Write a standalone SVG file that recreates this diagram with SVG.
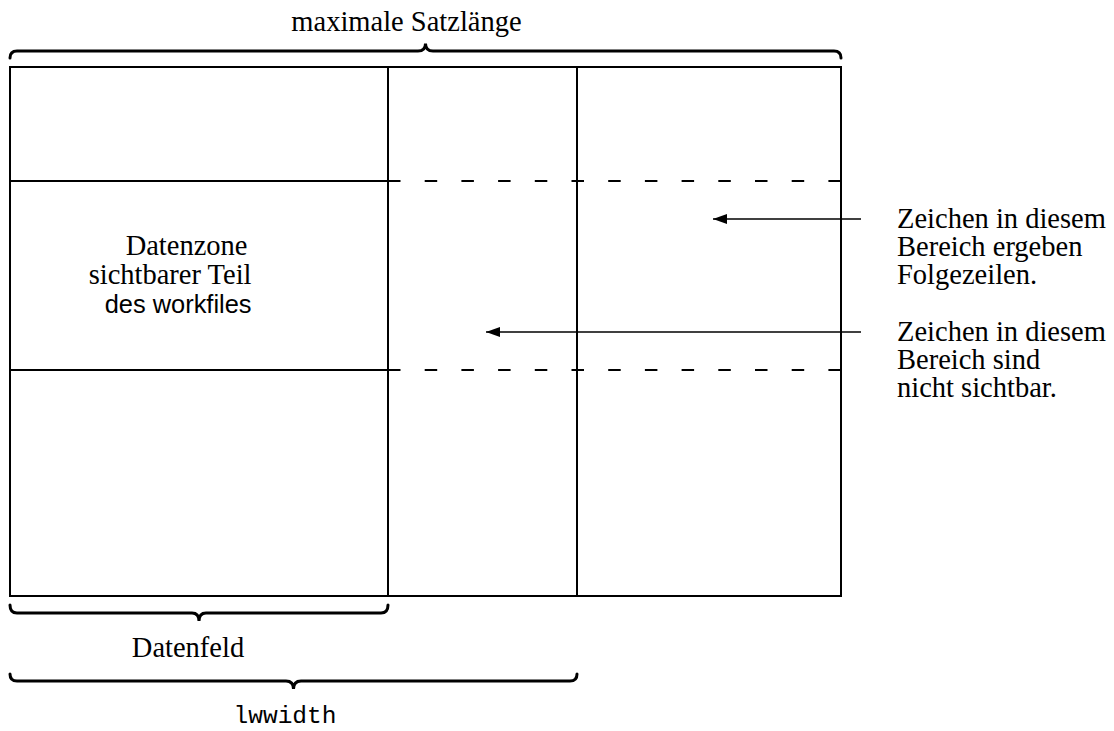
<svg xmlns="http://www.w3.org/2000/svg" width="1114" height="731" viewBox="0 0 1114 731">
  <style>
    .frame { fill: none; stroke: #000; stroke-width: 2; }
    .dash { fill: none; stroke: #000; stroke-width: 2; stroke-dasharray: 12.5 24.2; }
    .brace { fill: none; stroke: #000; stroke-width: 3; stroke-linecap: round; }
    .arrow { fill: none; stroke: #000; stroke-width: 1.6; }
    .serif { font-family: "Liberation Serif", "Times New Roman", serif; font-size: 28.5px; fill: #000; }
    .sans { font-family: "Liberation Sans", Arial, sans-serif; font-size: 25.4px; fill: #000; }
    .mono { font-family: "Liberation Mono", "DejaVu Sans Mono", monospace; font-size: 24.5px; fill: #000; }
  </style>
  <defs>
    <marker id="head" viewBox="0 0 14 10" refX="14" refY="5" markerWidth="14" markerHeight="10" markerUnits="userSpaceOnUse" orient="auto">
      <path d="M0,0 L14,5 L0,10 Z" fill="#000"/>
    </marker>
  </defs>
  <rect width="1114" height="731" fill="#fff"/>

  <!-- record layout grid -->
  <g id="grid">
    <rect class="frame" x="10" y="67" width="831" height="529"/>
    <line class="frame" x1="388" y1="67" x2="388" y2="596"/>
    <line class="frame" x1="577" y1="67" x2="577" y2="596"/>
    <line class="frame" x1="10" y1="181" x2="388" y2="181"/>
    <line class="frame" x1="10" y1="370" x2="388" y2="370"/>
    <line class="dash" x1="388" y1="181" x2="841" y2="181"/>
    <line class="dash" x1="388" y1="370" x2="841" y2="370"/>
  </g>

  <!-- brace over the full record length -->
  <g id="satzlaenge">
    <path class="brace" d="M10,58 Q10,51 17,51 H418 Q425.5,51 425.5,43.5 Q425.5,51 433,51 H834 Q841,51 841,58"/>
    <text class="serif" x="406.5" y="31" text-anchor="middle">maximale Satzlänge</text>
  </g>

  <!-- data zone label, flush right -->
  <g id="datenzone">
    <text class="serif" x="247.5" y="255" text-anchor="end">Datenzone</text>
    <text class="serif" x="251.5" y="284" text-anchor="end">sichtbarer Teil</text>
    <text class="sans" x="251.5" y="313" text-anchor="end">des workfiles</text>
  </g>

  <!-- brace under the data field -->
  <g id="datenfeld">
    <path class="brace" d="M10,605 Q10,613 17,613 H192 Q199,613 199,621 Q199,613 206,613 H381 Q388,613 388,605"/>
    <text class="serif" x="188" y="657" text-anchor="middle">Datenfeld</text>
  </g>

  <!-- brace under lwwidth -->
  <g id="lwwidth">
    <path class="brace" d="M10,674 Q10,681 17,681 H286 Q293.5,681 293.5,689 Q293.5,681 301,681 H570 Q577,681 577,674"/>
    <text class="mono" x="285" y="723" text-anchor="middle">lwwidth</text>
  </g>

  <!-- right-hand notes -->
  <g id="folgezeilen">
    <text class="serif" x="897" y="228">Zeichen in diesem</text>
    <text class="serif" x="897" y="256">Bereich ergeben</text>
    <text class="serif" x="897" y="284">Folgezeilen.</text>
  </g>
  <g id="nicht-sichtbar">
    <text class="serif" x="897" y="341">Zeichen in diesem</text>
    <text class="serif" x="897" y="369">Bereich sind</text>
    <text class="serif" x="897" y="397">nicht sichtbar.</text>
  </g>

  <g id="connectors">
    <line class="arrow" x1="861" y1="219" x2="713" y2="219" marker-end="url(#head)"/>
    <line class="arrow" x1="861" y1="332" x2="486" y2="332" marker-end="url(#head)"/>
  </g>
</svg>
